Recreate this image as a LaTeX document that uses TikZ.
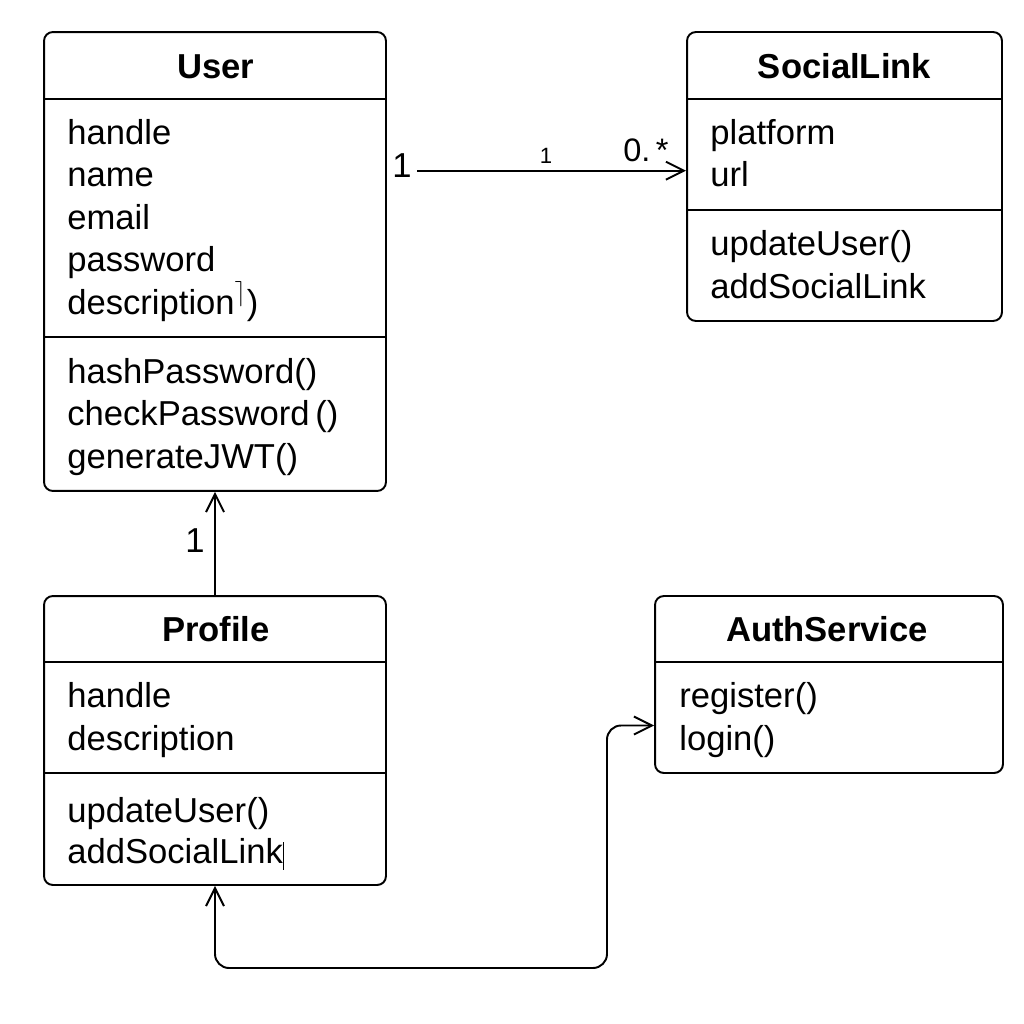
\documentclass[tikz,border=0pt]{standalone}
\usepackage{fontspec}
\setmainfont{Liberation Sans}
\usetikzlibrary{arrows.meta,positioning}

\begin{document}
\begin{tikzpicture}[x=0.02cm, y=-0.02cm,
  classbox/.style={draw, line width=1.1pt, rounded corners=5pt},
  title/.style={anchor=base, inner sep=0pt, font=\fontsize{19.7}{24}\selectfont\bfseries},
  member/.style={anchor=base west, inner sep=0pt, font=\fontsize{19.7}{24}\selectfont},
  mult/.style={inner sep=0pt},
  divider/.style={line width=0.85pt},
  assoc/.style={line width=1.1pt, -{Straight Barb[length=0.36cm, width=0.36cm]}},
  biassoc/.style={line width=1.1pt, rounded corners=8pt, {Straight Barb[length=0.36cm, width=0.36cm]}-{Straight Barb[length=0.36cm, width=0.36cm]}},
]
\useasboundingbox (0,0) rectangle (1024,1024);
% --- User (upper left) ---
\node[classbox, minimum width=6.84cm, minimum height=9.18cm] (user) at (215,261.5) {};
\node[title] (userT) at (216,79) {User};
\draw[divider] (user.west |- 0,99) -- (user.east |- 0,99);
\draw[divider] (user.west |- 0,337) -- (user.east |- 0,337);
\node[member] (userA1) at (67,144) {handle};
\node[member] (userA2) at (67,186.5) {name};
\node[member] (userA3) at (67,229) {email};
\node[member] (userA4) at (67,271.5) {password};
\node[member] (userA5) at (67,314) {description$^{\rceil}$)};
\node[member] (userM1) at (67,383) {hashPassword()};
\node[member] (userM2) at (67,425.5) {checkPassword\,()};
\node[member] (userM3) at (67,468) {generateJWT()};
% --- SocialLink (upper right) ---
\node[classbox, minimum width=6.30cm, minimum height=5.78cm] (social) at (844.5,176.5) {};
\node[title] (socialT) at (844.5,79) {SocialLink};
\draw[divider] (social.west |- 0,99) -- (social.east |- 0,99);
\draw[divider] (social.west |- 0,210) -- (social.east |- 0,210);
\node[member] (socialA1) at (710,144) {platform};
\node[member] (socialA2) at (710,186.5) {url};
\node[member] (socialM1) at (710,255) {updateUser()};
\node[member] (socialM2) at (710,298) {addSocialLink};
% --- Profile (lower left) ---
\node[classbox, minimum width=6.84cm, minimum height=5.78cm] (profile) at (215,740.5) {};
\node[title] (profileT) at (216,641) {Profile};
\draw[divider] (profile.west |- 0,662) -- (profile.east |- 0,662);
\draw[divider] (profile.west |- 0,773) -- (profile.east |- 0,773);
\node[member] (profileA1) at (67,707) {handle};
\node[member] (profileA2) at (67,750) {description};
\node[member] (profileM1) at (67,822) {updateUser()};
\node[member] (profileM2) at (67,863) {addSocialLink\rule[-0.2em]{0.6pt}{0.8em}};
% --- AuthService (lower right) ---
\node[classbox, minimum width=6.96cm, minimum height=3.54cm] (auth) at (829,684.5) {};
\node[title] (authT) at (827,641) {AuthService};
\draw[divider] (auth.west |- 0,662) -- (auth.east |- 0,662);
\node[member] (authM1) at (679,707) {register()};
\node[member] (authM2) at (679,750) {login()};
% --- connectors ---
\coordinate (linkStart) at (417,170.7);
\coordinate (bend) at (607,968);
\draw[assoc] (linkStart) -- (social.west |- linkStart);
\draw[assoc] (profile.north) -- (user.south);
\draw[biassoc] (profile.south) |- (bend) |- (auth.west |- 0,725.5);
% --- multiplicities ---
\node[member] (multA) at (392,177) {1};
\node[mult, anchor=base, font=\fontsize{12.6}{14}\selectfont] (multB) at (546,163) {1};
\node[mult, anchor=base west, font=\fontsize{18.5}{22}\selectfont] (multC) at (623,161) {0.\,*};
\node[mult, anchor=base east, font=\fontsize{19.7}{24}\selectfont] (multD) at (205,552) {1};
\end{tikzpicture}
\end{document}
